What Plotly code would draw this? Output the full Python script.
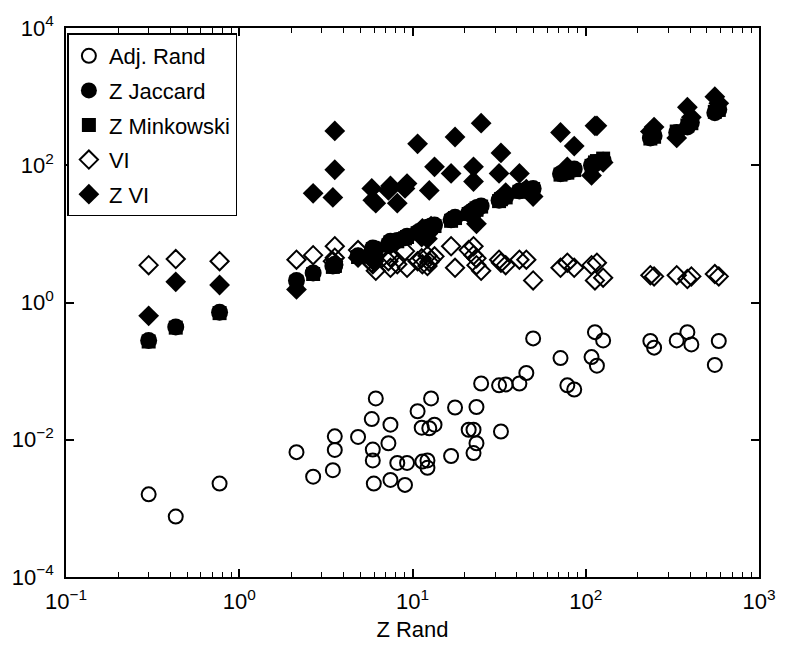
import plotly.graph_objects as go

# ---------------- data ----------------
z_rand = [0.30, 0.43, 0.77, 2.14, 2.67, 3.56, 3.56, 3.47, 4.85, 5.82,
          6.14, 5.9, 5.9, 5.98, 7.26, 7.46, 7.46, 8.17, 9.05, 9.3,
          10.7, 11.3, 11.4, 12.2, 12.2, 12.5, 12.8, 13.4, 16.7, 17.6,
          21.1, 22.5, 22.5, 23.4, 23.4, 24.9, 31.6, 32.4, 34.5, 41.4,
          45.4, 49.7, 71.5, 78.3, 85.8, 108, 113, 116, 126, 236,
          248, 335, 386, 407, 556, 586]

adj_rand = [0.0016, 0.00076, 0.0023, 0.0066, 0.0029, 0.0112, 0.0071, 0.0036, 0.011, 0.020,
            0.040, 0.0072, 0.005, 0.0023, 0.0089, 0.0166, 0.0026, 0.0046, 0.0022, 0.0046,
            0.026, 0.015, 0.0048, 0.005, 0.0039, 0.0147, 0.040, 0.0166, 0.0058, 0.0295,
            0.014, 0.014, 0.0064, 0.0089, 0.030, 0.066, 0.062, 0.0132, 0.064, 0.066,
            0.094, 0.30, 0.155, 0.062, 0.054, 0.16, 0.37, 0.12, 0.28, 0.275,
            0.22, 0.28, 0.37, 0.245, 0.123, 0.275]

z_jaccard = [0.28, 0.44, 0.72, 2.1, 2.7, 3.5, 3.6, 3.4, 4.8, 5.5,
             6.0, 5.8, 6.2, 5.6, 7.0, 7.5, 7.8, 8.0, 8.8, 9.2,
             10.5, 11.0, 11.5, 12.0, 12.5, 12.6, 13.0, 13.5, 16.0, 17.5,
             20.0, 21.5, 22.0, 23.0, 24.0, 25.5, 31.0, 33.0, 35.0, 42.0,
             44.0, 46.0, 75.0, 80.0, 88.0, 100.0, 105.0, 110.0, 118.0, 250.0,
             270.0, 300.0, 360.0, 420.0, 580.0, 650.0]

z_minkowski = [0.27, 0.43, 0.70, 2.0, 2.6, 3.4, 3.5, 3.3, 4.6, 5.3,
               5.8, 5.6, 6.0, 5.4, 6.8, 7.2, 7.5, 7.8, 8.6, 9.0,
               10.2, 10.8, 11.2, 11.6, 12.0, 12.2, 12.6, 13.0, 15.5, 17.0,
               19.5, 21.0, 21.5, 22.4, 23.5, 25.0, 30.0, 32.0, 34.0, 41.0,
               43.0, 45.0, 73.0, 78.0, 85.0, 98.0, 110.0, 115.0, 125.0, 245.0,
               260.0, 310.0, 380.0, 410.0, 600.0, 640.0]

vi = [3.5, 4.3, 4.0, 4.2, 4.9, 6.6, 4.5, 4.0, 5.8, 3.8,
      2.9, 4.4, 3.6, 4.0, 4.0, 3.2, 4.6, 3.6, 5.6, 3.2,
      4.0, 4.4, 3.6, 3.4, 4.8, 3.9, 4.2, 4.7, 6.6, 3.2,
      5.8, 6.6, 4.9, 3.5, 4.4, 2.9, 4.2, 3.8, 3.5, 4.2,
      4.2, 2.1, 3.2, 3.8, 3.2, 3.5, 2.1, 3.8, 2.3, 2.5,
      2.4, 2.5, 2.2, 2.4, 2.6, 2.4]

z_vi = [0.64, 2.0, 1.8, 1.55, 39, 316, 86, 34, 4.5, 46,
        28, 31, 5.0, 4.2, 43, 50, 7.0, 28, 46, 54,
        205, 9.0, 12, 10, 8.5, 43, 13, 95, 76, 258,
        20, 95, 58, 14, 22, 410, 76, 151, 40, 76,
        45, 35, 300, 95, 190, 71, 375, 375, 110, 310,
        360, 250, 700, 500, 1000, 800]

x_tickvals = [0.1, 1, 10, 100, 1000]
x_ticktext = ["10<sup>−1</sup>", "10<sup>0</sup>", "10<sup>1</sup>", "10<sup>2</sup>", "10<sup>3</sup>"]
y_tickvals = [1e-4, 1e-2, 1, 1e2, 1e4]
y_ticktext = ["10<sup>−4</sup>", "10<sup>−2</sup>", "10<sup>0</sup>", "10<sup>2</sup>", "10<sup>4</sup>"]
x_minor = [m * 10 ** e for e in (-1, 0, 1, 2) for m in range(2, 10)]

series_names = ["Adj. Rand", "Z Jaccard", "Z Minkowski", "VI", "Z VI"]

FONT = "Liberation Sans, Arial, sans-serif"

# ---------------- figure ----------------
fig = go.Figure()
fig.add_trace(go.Scatter(x=z_rand, y=adj_rand, mode="markers", name=series_names[0],
                         legendgroup="a",
                         marker=dict(symbol="circle-open", size=14, color="black",
                                     line=dict(width=2, color="black"))))
fig.add_trace(go.Scatter(x=z_rand, y=z_jaccard, mode="markers", name=series_names[1],
                         legendgroup="b",
                         marker=dict(symbol="circle", size=17, color="black",
                                     line=dict(width=0))))
fig.add_trace(go.Scatter(x=z_rand, y=z_minkowski, mode="markers", name=series_names[2],
                         legendgroup="c",
                         marker=dict(symbol="square", size=14, color="black",
                                     line=dict(width=0))))
fig.add_trace(go.Scatter(x=z_rand, y=vi, mode="markers", name=series_names[3],
                         legendgroup="d",
                         marker=dict(symbol="diamond-open", size=14, color="black",
                                     line=dict(width=2, color="black"))))
fig.add_trace(go.Scatter(x=z_rand, y=z_vi, mode="markers", name=series_names[4],
                         legendgroup="e",
                         marker=dict(symbol="diamond", size=16, color="black",
                                     line=dict(width=0))))

axis_common = dict(
    type="log", showline=True, linecolor="black", linewidth=1.5, mirror="ticks",
    ticks="inside", ticklen=8, tickwidth=1.5, tickcolor="black",
    showgrid=False, zeroline=False, ticklabeloverflow="allow",
    tickfont=dict(family=FONT, size=22, color="black"),
)

fig.update_xaxes(**axis_common, range=[-1, 3], tickmode="array",
                 tickvals=x_tickvals, ticktext=x_ticktext, ticklabelstandoff=4,
                 minor=dict(ticks="inside", ticklen=5, tickwidth=1.2, tickcolor="black",
                            tickmode="array", tickvals=x_minor, showgrid=False),
                 title=dict(text="Z Rand", standoff=8,
                            font=dict(family=FONT, size=22, color="black")))
fig.update_yaxes(**axis_common, range=[-4, 4], tickmode="array",
                 tickvals=y_tickvals, ticktext=y_ticktext, ticklabelstandoff=6)

fig.update_layout(
    width=788, height=652,
    margin=dict(l=65, r=16, t=23, b=75),
    plot_bgcolor="white", paper_bgcolor="white",
    font=dict(family=FONT, size=20, color="black"),
    legend=dict(x=0.002, y=0.99, xanchor="left", yanchor="top",
                bgcolor="white", bordercolor="black", borderwidth=1.5,
                font=dict(family=FONT, size=22), tracegroupgap=3, itemwidth=30,
                traceorder="grouped"),
)

fig.write_html("out.html")
